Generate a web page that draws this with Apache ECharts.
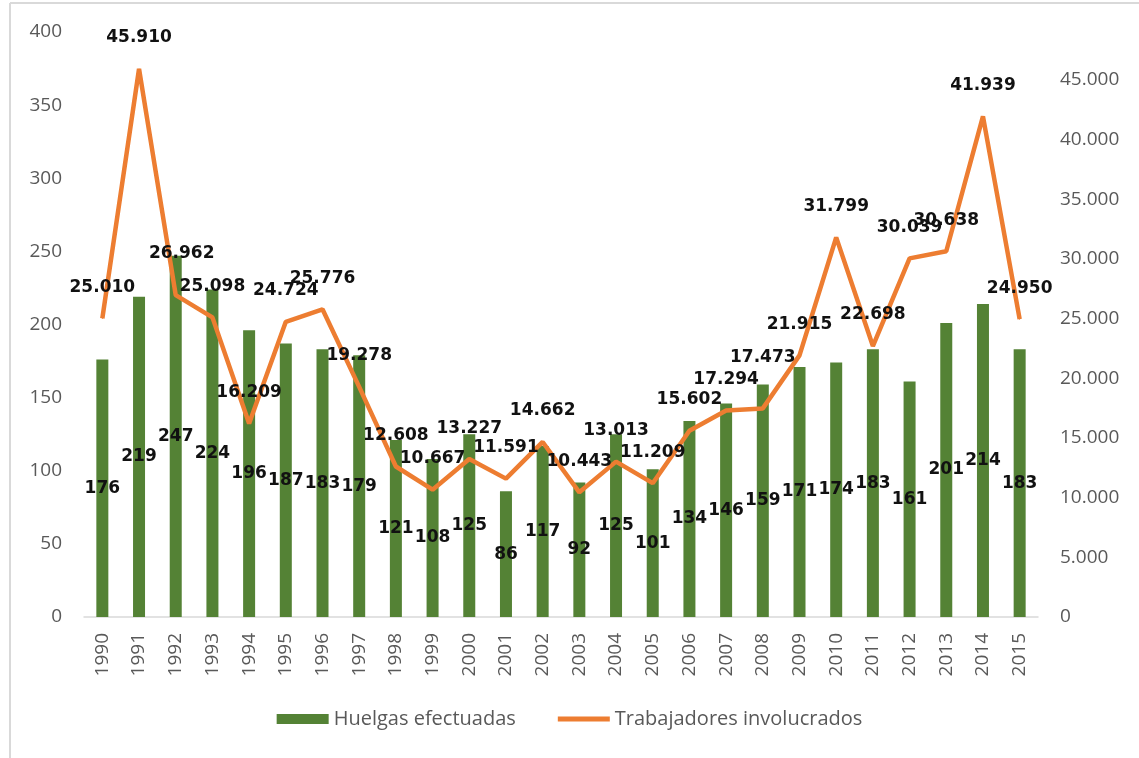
<!DOCTYPE html>
<html>
<head>
<meta charset="utf-8">
<script src="https://cdn.jsdelivr.net/npm/echarts@6/dist/echarts.min.js"></script>
<style>
  html, body { margin: 0; padding: 0; background: #fff; }
  #chart { width: 1139px; height: 758px; }
</style>
</head>
<body>
<div id="chart"></div>
<script>
const years = ['1990','1991','1992','1993','1994','1995','1996','1997','1998','1999','2000','2001','2002',
  '2003','2004','2005','2006','2007','2008','2009','2010','2011','2012','2013','2014','2015']
const huelgas = [176,219,247,224,196,187,183,179,121,108,125,86,117,92,125,101,134,146,159,171,174,183,161,201,214,183]
const trabajadores = [25010,45910,26962,25098,16209,24724,25776,19278,12608,10667,13227,11591,14662,
  10443,13013,11209,15602,17294,17473,21915,31799,22698,30039,30638,41939,24950]

const GREEN = '#548235'
const ORANGE = '#ED7D31'
const AXIS_TEXT = '#595959'

const fmt = (v) => String(v).replace(/\B(?=(\d{3})+(?!\d))/g, '.')

// a couple of line labels sit higher in the original
const labelShift = { 2: [6, -11], 18: [0, -20] }

const chart = echarts.init(document.getElementById('chart'), null, { renderer: 'canvas' })

chart.setOption({
  backgroundColor: '#fff',
  animation: false,
  graphic: [
    { type: 'line', shape: { x1: 10, y1: 3, x2: 1139, y2: 3 }, style: { stroke: '#d9d9d9', lineWidth: 2 } },
    { type: 'line', shape: { x1: 10, y1: 3, x2: 10, y2: 758 }, style: { stroke: '#d9d9d9', lineWidth: 2 } },
  ],
  grid: { left: 84, right: 101, top: 32, bottom: 141 },
  legend: {
    bottom: 24,
    left: 'center',
    itemWidth: 52,
    itemHeight: 10,
    itemGap: 42,
    textStyle: { color: AXIS_TEXT, fontSize: 20, fontFamily: 'Open Sans' },
    data: [
      { name: 'Huelgas efectuadas', icon: 'rect' },
      { name: 'Trabajadores involucrados', icon: 'path://M0,0 L52,0 L52,5 L0,5 Z' },
    ],
  },
  xAxis: {
    type: 'category',
    data: years,
    axisLine: { lineStyle: { color: '#d9d9d9', width: 1.5 } },
    axisTick: { show: false },
    axisLabel: { rotate: 90, color: AXIS_TEXT, fontSize: 19, fontFamily: 'Open Sans', margin: 16, interval: 0 },
  },
  yAxis: [
    {
      type: 'value',
      min: 0,
      max: 400,
      interval: 50,
      axisLine: { show: false },
      axisTick: { show: false },
      splitLine: { show: false },
      axisLabel: { color: AXIS_TEXT, fontSize: 19, fontFamily: 'Open Sans', margin: 22 },
    },
    {
      type: 'value',
      min: 0,
      max: 49000,
      interval: 5000,
      axisLine: { show: false },
      axisTick: { show: false },
      splitLine: { show: false },
      axisLabel: {
        color: AXIS_TEXT, fontSize: 19, fontFamily: 'Open Sans', margin: 22,
        showMaxLabel: false, formatter: (v) => fmt(v),
      },
    },
  ],
  series: [
    {
      name: 'Huelgas efectuadas',
      type: 'bar',
      data: huelgas,
      barWidth: 12,
      itemStyle: { color: GREEN },
      label: {
        show: true,
        position: 'inside',
        color: '#111',
        fontWeight: 'bold',
        fontSize: 17,
        fontFamily: 'DejaVu Sans',
      },
      z: 2,
    },
    {
      name: 'Trabajadores involucrados',
      type: 'line',
      yAxisIndex: 1,
      data: trabajadores.map((v, i) => labelShift[i]
        ? { value: v, label: { offset: labelShift[i] } }
        : v),
      symbol: 'circle',
      symbolSize: 1,
      lineStyle: { color: ORANGE, width: 4.5 },
      itemStyle: { color: ORANGE },
      label: {
        show: true,
        position: 'top',
        distance: 22,
        color: '#111',
        fontWeight: 'bold',
        fontSize: 17,
        fontFamily: 'DejaVu Sans',
        formatter: (p) => fmt(p.value),
      },
      z: 3,
    },
  ],
})
</script>
</body>
</html>
